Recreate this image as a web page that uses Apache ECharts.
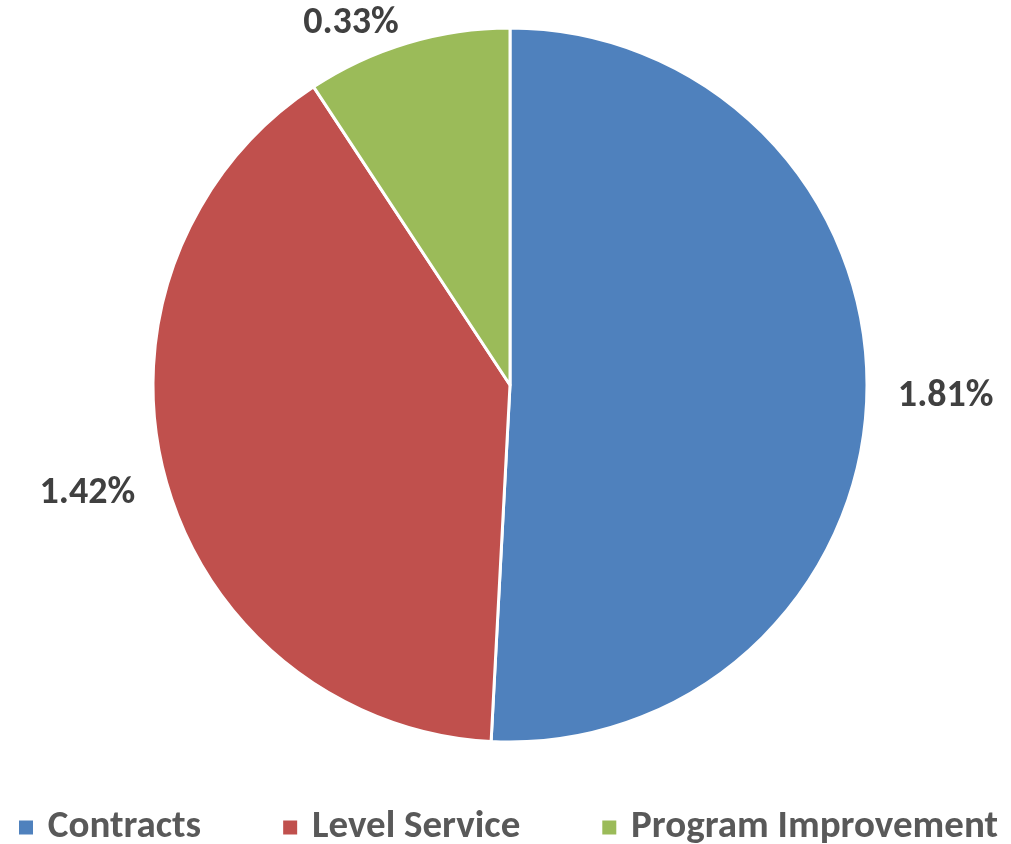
<!DOCTYPE html>
<html>
<head>
<meta charset="utf-8">
<script src="https://cdn.jsdelivr.net/npm/echarts@6/dist/echarts.min.js"></script>
<style>
  html, body { margin: 0; padding: 0; background: #fff; }
  #chartPie { width: 1011px; height: 844px; }
</style>
</head>
<body>
<div id="chartPie"></div>
<script>
// 类别
const categories = ["Contracts", "Level Service", "Program Improvement"];
// 百分比值
const values = [1.81, 1.42, 0.33];
const colors = ["#4F81BD", "#C0504D", "#9BBB59"];
// 标签微调 (dx, dy)
const labelNudge = [[0, 2], [0, 10], [8, 0]];

const font = 'Carlito, Lato, sans-serif';

const pieData = categories.map((name, i) => ({
  name: name,
  value: values[i],
  itemStyle: { color: colors[i] }
}));

const chartPie = echarts.init(document.getElementById("chartPie"));
chartPie.setOption({
  animation: false,
  legend: {
    data: categories,
    top: 803,
    left: 12,
    itemWidth: 16,
    itemHeight: 16,
    itemGap: 80,
    icon: "rect",
    formatter: " {name}",
    textStyle: {
      fontFamily: font,
      fontSize: 39,
      fontWeight: "bold",
      color: "#595959"
    }
  },
  series: [
    {
      name: "Share",
      type: "pie",
      center: [510, 385],
      radius: 357,
      startAngle: 90,
      clockwise: true,
      avoidLabelOverlap: false,
      itemStyle: { borderColor: "#fff", borderWidth: 3 },
      label: {
        show: true,
        position: "outside",
        formatter: "{c}%",
        fontFamily: font,
        fontSize: 38,
        fontWeight: "bold",
        color: "#404040"
      },
      labelLine: { show: false, length: 20, length2: 6 },
      labelLayout: function (params) {
        const n = labelNudge[params.dataIndex];
        return { dx: n[0], dy: n[1] };
      },
      emphasis: { disabled: true },
      data: pieData
    }
  ]
});
</script>
</body>
</html>
